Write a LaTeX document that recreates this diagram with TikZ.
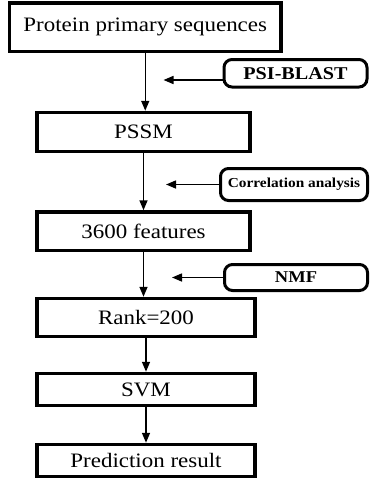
\documentclass[tikz,border=0pt]{standalone}
\usepackage{fontspec}
\setmainfont{Liberation Serif}[FakeStretch=1.12]
\usetikzlibrary{arrows.meta}
\begin{document}
\begin{tikzpicture}[x=1pt,y=-1pt,
  stepbox/.style={draw, line width=3.5pt, inner sep=0pt, font=\fontsize{20.5}{24}\selectfont},
  tagbox/.style={draw, line width=3pt, rounded corners=8pt, inner sep=0pt, font=\bfseries},
  arr/.style={line width=1.5pt, -{Triangle[length=10pt,width=8pt]}}]
\useasboundingbox (0,0) rectangle (370,480);
\node[stepbox, minimum width=271.5pt, minimum height=48.5pt] (b1) at (145.25,27.25) {Protein primary sequences};
\node[stepbox, minimum width=213pt, minimum height=39pt] (b2) at (143.5,132) {PSSM};
\node[stepbox, minimum width=213pt, minimum height=38.5pt] (b3) at (143.5,231.25) {3600 features};
\node[stepbox, minimum width=218pt, minimum height=38pt] (b4) at (146,317.5) {Rank=200};
\node[stepbox, minimum width=218pt, minimum height=32pt] (b5) at (146,389.5) {SVM};
\node[stepbox, minimum width=218pt, minimum height=32pt] (b6) at (146,460.5) {Prediction result};

\node[tagbox, minimum width=143pt, minimum height=27.5pt, font=\bfseries\fontsize{18}{20}\selectfont] (t1) at (295.5,73.25) {PSI-BLAST};
\node[tagbox, minimum width=147pt, minimum height=32pt, font=\bfseries\fontsize{13.7}{16}\selectfont] (t2) at (294,184.5) {Correlation analysis};
\node[tagbox, minimum width=143pt, minimum height=26pt, font=\bfseries\fontsize{16.5}{20}\selectfont] (t3) at (296,277.5) {NMF};

\draw[arr] (b1.south) -- (b1.south |- b2.north);
\draw[arr] (b2.south) -- (b2.south |- b3.north);
\draw[arr] (b3.south) -- (b3.south |- b4.north);
\draw[arr] (b4.south) -- (b4.south |- b5.north);
\draw[arr] (b5.south) -- (b5.south |- b6.north);

\draw[arr] ([yshift=-6.75pt]t1.west) -- ++(-59,0);
\draw[arr] (t2.west) -- ++(-53,0);
\draw[arr] (t3.west) -- ++(-51,0);
\end{tikzpicture}
\end{document}
